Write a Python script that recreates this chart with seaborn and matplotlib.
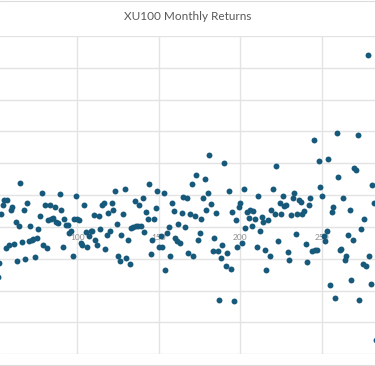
import pandas as pd
import matplotlib.pyplot as plt
from matplotlib.lines import Line2D
import seaborn as sns

# month index (visible window only) and monthly return values
month_a = list(range(51, 169))
returns_a = [
    -0.078, -0.057, 0.020, 0.034, 0.042, -0.033, 0.042, -0.028, 0.027, 0.032,
    -0.027, 0.008, -0.053, 0.001, 0.069, -0.023, 0.027, -0.051, 0.038, -0.022,
    0.001, -0.021, -0.019, -0.047, -0.018, -0.004, 0.017, 0.054, -0.029, 0.034,
    -0.033, 0.011, 0.035, 0.013, 0.014, 0.032, 0.008, 0.006, 0.052, 0.026,
    -0.031, 0.012, 0.003, 0.003, -0.009, -0.007, -0.046, 0.012, 0.048, 0.013,
    0.011, -0.025, -0.028, 0.034, -0.008, -0.032, -0.015, -0.007, -0.007, 0.018,
    -0.021, -0.028, 0.017, -0.004, 0.034, 0.037, -0.035, -0.013, 0.022, -0.007,
    0.037, 0.027, 0.056, 0.004, -0.045, -0.054, -0.013, 0.020, 0.060, -0.049,
    -0.020, -0.058, -0.002, 0.000, 0.041, 0.001, 0.002, 0.034, 0.002, 0.045,
    -0.008, 0.023, 0.012, 0.067, -0.042, -0.020, 0.013, 0.030, 0.057, -0.032,
    -0.015, -0.032, 0.053, -0.068, -0.009, 0.000, -0.046, 0.037, 0.025, -0.017,
    -0.022, 0.004, -0.026, 0.022, 0.047, 0.000, 0.045, -0.041,
]
month_b = list(range(169, 284))
returns_b = [
    0.020, 0.068, -0.046, 0.017, 0.082, -0.021, -0.009, 0.013, 0.045, 0.076,
    0.026, 0.053, 0.113, 0.036, -0.038, -0.018, 0.022, -0.038, -0.115, -0.049,
    -0.029, 0.100, -0.062, -0.041, 0.056, -0.066, 0.023, -0.117, 0.011, -0.032,
    0.032, 0.038, -0.026, 0.059, -0.001, 0.023, 0.014, 0.026, 0.002, 0.025,
    0.012, -0.032, 0.049, -0.006, 0.016, 0.008, -0.037, -0.067, 0.011, -0.045,
    0.026, 0.059, 0.021, 0.096, -0.022, 0.038, 0.021, 0.048, 0.033, 0.034,
    -0.039, -0.052, 0.018, 0.046, 0.054, -0.011, 0.020, 0.042, 0.039, 0.021,
    0.025, -0.027, -0.055, 0.034, 0.046, -0.038, 0.136, -0.037, -0.037, 0.103,
    0.062, 0.048, -0.015, -0.022, -0.006, 0.107, -0.092, 0.024, 0.032, -0.111,
    0.148, 0.079, -0.037, -0.034, 0.045, -0.052, -0.046, -0.012, 0.027, -0.083,
    -0.020, 0.092, 0.089, 0.144, -0.115, -0.003, -0.058, 0.013, -0.061, 0.270,
    -0.045, -0.090, 0.066, 0.038, -0.178,
]
x_ticks = [100, 150, 200, 250]
y_grid = [-0.20, -0.15, -0.10, -0.05, 0.0, 0.05, 0.10, 0.15, 0.20, 0.25, 0.30]

df = pd.DataFrame({"Month": month_a + month_b, "Return": returns_a + returns_b})

sns.set_theme(style="whitegrid")
plt.rcParams["font.family"] = ["Lato", "DejaVu Sans"]

fig = plt.figure(figsize=(3.75, 3.66), dpi=100)
ax = fig.add_axes([0, 1 - 354.2 / 366, 1, 318.2 / 366])

sns.scatterplot(data=df, x="Month", y="Return", ax=ax, color="#17597a",
                s=18, linewidth=0, zorder=3)

ax.set_xlim(52.45, 282.6)
ax.set_ylim(-0.2, 0.3)
ax.set_xticks(x_ticks)
ax.set_xticklabels([str(t) for t in x_ticks])
ax.set_yticks(y_grid)
ax.set_xlabel("")
ax.set_ylabel("")
ax.grid(True, color="#e3e3e3", linewidth=1.0)
ax.set_axisbelow(True)
for side in ["top", "right", "left", "bottom"]:
    ax.spines[side].set_visible(False)
ax.spines["bottom"].set_position(("data", 0))
ax.tick_params(axis="x", length=0, pad=5, labelsize=6, labelcolor="#8c8c8c")
ax.tick_params(axis="y", left=False, labelleft=False)
ax.set_facecolor("white")

# chart border lines and title
fig.add_artist(Line2D([0, 1], [1 - 1 / 366, 1 - 1 / 366], transform=fig.transFigure,
                      color="#dcdcdc", lw=0.8))
fig.add_artist(Line2D([0, 1], [0.6 / 366, 0.6 / 366], transform=fig.transFigure,
                      color="#dcdcdc", lw=0.8))
fig.text(0.5, 1 - 16.5 / 366, "XU100 Monthly Returns", ha="center", va="center",
         fontsize=8.5, color="#595959")

fig.savefig("out.png", dpi=100)
